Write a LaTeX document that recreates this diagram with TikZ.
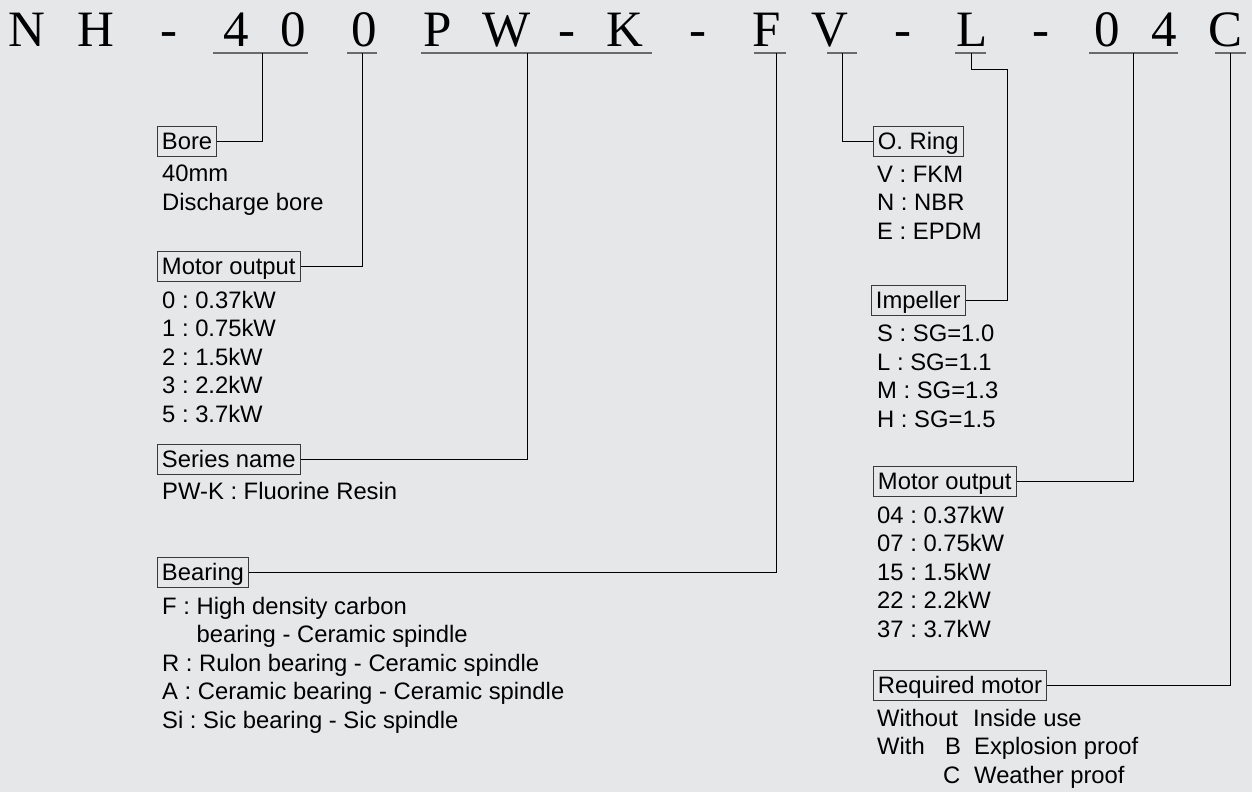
\documentclass[tikz,border=0pt]{standalone}
\usepackage{fontspec}
\setmainfont{Liberation Sans}
\newfontfamily\titleserif{Liberation Serif}
\newcommand\lblfont{\fontsize{23.8}{28.5}\selectfont}
\definecolor{bg}{HTML}{E6E7E9}
\definecolor{boxc}{HTML}{3A3A3A}
\definecolor{ulc}{HTML}{6A6A6A}
\tikzset{
  titlech/.style={anchor=base, inner sep=0pt, font=\titleserif\fontsize{51}{51}\selectfont, text=black},
  uline/.style={draw=ulc, line width=1.6pt},
  conn/.style={draw=black, line width=0.9pt},
  labelbox/.style={draw=boxc, line width=0.9pt, inner xsep=4.5pt, inner ysep=3pt, text height=20pt, text depth=4pt, anchor=west, font=\lblfont},
  info/.style={anchor=base west, inner sep=0pt, align=left, font=\lblfont}
}
\begin{document}
\frenchspacing
\begin{tikzpicture}[x=1pt,y=-1pt]
\fill[bg] (0,0) rectangle (1252,792);
\useasboundingbox (0,0) rectangle (1252,792);
% title characters
\foreach \xx/\cc [count=\i] in {27/N,96/H,169/-,236/4,293/0,364/0,438/P,507/W,567/-,625/K,698/-,767/F,830/V,903/-,972/L,1041/-,1107/0,1164/4,1225/C}
  \node[titlech] (t\i) at (\xx,47) {\cc};
% underlines
\draw[uline] (213,53) -- (308,53);
\draw[uline] (347,53) -- (377,53);
\draw[uline] (421,53) -- (652,53);
\draw[uline] (754,53) -- (786,53);
\draw[uline] (827,53) -- (857,53);
\draw[uline] (955,53) -- (986,53);
\draw[uline] (1089,53) -- (1178,53);
\draw[uline] (1215,53) -- (1246,53);
% connector starts
\coordinate (uBore) at (262,53);
\coordinate (uMot) at (362,53);
\coordinate (uSer) at (527,53);
\coordinate (uBear) at (776,53);
\coordinate (uRing) at (842,53);
\coordinate (uImp) at (971,53);
\coordinate (bImp) at (1007,69);
\coordinate (uMotR) at (1133,53);
\coordinate (uReq) at (1230,53);
% left boxes
\node[labelbox] (bore) at (157,141) {Bore};
\node[info] (boreT) at (162,210) {40mm\\Discharge bore};
\node[labelbox] (mot) at (157,266) {Motor output};
\node[info] (motT) at (162,422) {0 : 0.37kW\\1 : 0.75kW\\2 : 1.5kW\\3 : 2.2kW\\5 : 3.7kW};
\node[labelbox] (ser) at (157,459) {Series name};
\node[info] (serT) at (162,499) {PW-K : Fluorine Resin};
\node[labelbox] (bear) at (157,572) {Bearing};
\node[info] (bearT) at (162,728) {F : High density carbon\\\phantom{F : }bearing - Ceramic spindle\\R : Rulon bearing - Ceramic spindle\\A : Ceramic bearing - Ceramic spindle\\Si : Sic bearing - Sic spindle};
% right boxes
\node[labelbox] (ring) at (873,141) {O. Ring};
\node[info] (ringT) at (877,239) {V : FKM\\N : NBR\\E : EPDM};
\node[labelbox] (imp) at (871,300) {Impeller};
\node[info] (impT) at (877,427) {S : SG=1.0\\L : SG=1.1\\M : SG=1.3\\H : SG=1.5};
\node[labelbox] (motR) at (873,481) {Motor output};
\node[info] (motRT) at (877,637) {04 : 0.37kW\\07 : 0.75kW\\15 : 1.5kW\\22 : 2.2kW\\37 : 3.7kW};
\node[labelbox] (req) at (873,685) {Required motor};
\node[info] (reqT) at (877,783) {\makebox[96pt][l]{Without}Inside use\\\makebox[68pt][l]{With}\makebox[29pt][l]{B}Explosion proof\\\hspace*{66pt}\makebox[31pt][l]{C}Weather proof};
% connectors
\draw[conn] (uBore) |- (bore);
\draw[conn] (uMot) |- (mot);
\draw[conn] (uSer) |- (ser);
\draw[conn] (uBear) |- (bear);
\draw[conn] (uRing) |- (ring);
\draw[conn] (uImp) |- (bImp) |- (imp);
\draw[conn] (uMotR) |- (motR);
\draw[conn] (uReq) |- (req);
\end{tikzpicture}
\end{document}
